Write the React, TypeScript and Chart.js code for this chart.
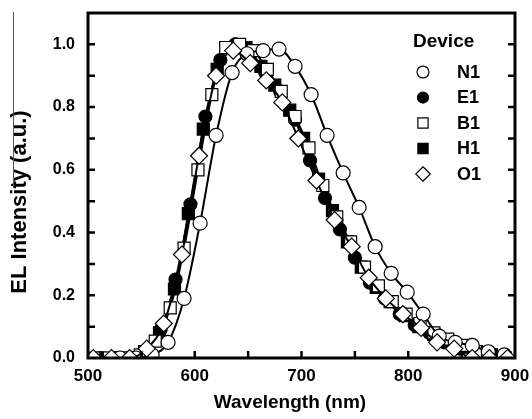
import React, { useEffect, useRef } from 'react';
import { Chart, registerables } from 'chart.js';

Chart.register(...registerables);

// ---- data ----
const n1X = [530, 545, 560, 575, 590, 605, 620, 635, 649, 664, 679, 694, 709, 724, 739, 754, 769, 784, 799, 814, 829, 844, 860, 875, 890];
const n1Y = [0, 0, 0.01, 0.05, 0.19, 0.43, 0.71, 0.91, 0.97, 0.98, 0.985, 0.93, 0.84, 0.71, 0.59, 0.48, 0.355, 0.27, 0.21, 0.14, 0.07, 0.05, 0.04, 0.02, 0.01];

const e1X = [512, 526, 540, 554, 568, 582, 596, 610, 624, 638, 652, 666, 680, 694, 708, 722, 736, 750, 764, 778, 792, 806, 820, 834, 848, 862, 876, 890];
const e1Y = [0, 0, 0, 0.02, 0.09, 0.25, 0.49, 0.77, 0.95, 1.0, 0.97, 0.91, 0.85, 0.76, 0.63, 0.51, 0.41, 0.32, 0.24, 0.19, 0.14, 0.105, 0.08, 0.05, 0.03, 0.015, 0.01, 0];

const b1X = [505, 520, 535, 549, 563, 577, 590, 603, 616, 629, 642, 655, 668, 681, 694, 707, 720, 733, 746, 759, 772, 785, 798, 811, 824, 837, 850, 863, 876, 889];
const b1Y = [0, 0, 0, 0.01, 0.054, 0.16, 0.35, 0.6, 0.84, 0.99, 1.0, 0.98, 0.92, 0.85, 0.77, 0.67, 0.55, 0.45, 0.37, 0.29, 0.23, 0.18, 0.14, 0.11, 0.08, 0.06, 0.04, 0.02, 0.01, 0];

const h1X = [512, 526, 540, 553, 567, 581, 594, 608, 621, 635, 648, 662, 675, 689, 702, 716, 729, 743, 756, 770, 783, 797, 810, 824, 837, 851, 864, 878, 891];
const h1Y = [0, 0, 0, 0.02, 0.08, 0.22, 0.46, 0.73, 0.92, 0.99, 0.99, 0.93, 0.87, 0.79, 0.7, 0.57, 0.47, 0.37, 0.29, 0.225, 0.18, 0.135, 0.1, 0.075, 0.055, 0.035, 0.02, 0.01, 0];

const o1X = [505, 522, 539, 555, 571, 588, 604, 620, 636, 652, 667, 682, 697, 714, 731, 747, 763, 779, 795, 812, 827, 843, 860, 876, 893];
const o1Y = [0, 0, 0, 0.03, 0.11, 0.33, 0.645, 0.9, 0.98, 0.94, 0.885, 0.815, 0.7, 0.566, 0.44, 0.355, 0.256, 0.19, 0.14, 0.096, 0.05, 0.03, 0, 0, 0];

const xTickValues = [500, 600, 700, 800, 900];
const xMinorTicks = [550, 600, 650, 700, 750, 800, 850];
const yTickValues = [0, 0.2, 0.4, 0.6, 0.8, 1.0];
const yMinorTicks = [0.1, 0.2, 0.3, 0.4, 0.5, 0.6, 0.7, 0.8, 0.9, 1.0];

const legendTitle = 'Device';
const seriesNames = ['N1', 'E1', 'B1', 'H1', 'O1'];
const xTitle = 'Wavelength (nm)';
const yTitle = 'EL Intensity (a.u.)';

const FONT = "'Liberation Sans', Arial, sans-serif";

const pts = (xs: number[], ys: number[]) => xs.map((x, i) => ({ x, y: ys[i] }));

type Marker = { style: string; fill: string; r: number };
const markers: Record<string, Marker> = {
  N1: { style: 'circle', fill: '#ffffff', r: 7 },
  E1: { style: 'circle', fill: '#000000', r: 6.5 },
  B1: { style: 'rect', fill: '#ffffff', r: 8.5 },
  H1: { style: 'rect', fill: '#000000', r: 8.5 },
  O1: { style: 'rectRot', fill: '#ffffff', r: 8.5 },
};

function drawMarker(ctx: CanvasRenderingContext2D, kind: string, x: number, y: number, scale: number) {
  const m = markers[kind];
  ctx.beginPath();
  if (m.style === 'circle') {
    ctx.arc(x, y, m.r * scale, 0, Math.PI * 2);
  } else if (m.style === 'rect') {
    const s = m.r * Math.SQRT1_2 * scale;
    ctx.rect(x - s, y - s, 2 * s, 2 * s);
  } else {
    const r = m.r * scale;
    ctx.moveTo(x, y - r);
    ctx.lineTo(x + r, y);
    ctx.lineTo(x, y + r);
    ctx.lineTo(x - r, y);
    ctx.closePath();
  }
  ctx.fillStyle = m.fill;
  ctx.fill();
  ctx.lineWidth = 1.2;
  ctx.strokeStyle = '#000';
  ctx.stroke();
}

const decorPlugin = {
  id: 'decor',
  afterDatasetsDraw(chart: any) {
    const { ctx, chartArea: a, scales } = chart;
    const xs = scales.x;
    const ys = scales.y;
    ctx.save();
    // frame
    ctx.strokeStyle = '#000';
    ctx.lineWidth = 3;
    ctx.strokeRect(a.left, a.top, a.right - a.left, a.bottom - a.top);
    // inward ticks
    ctx.lineWidth = 2.5;
    ctx.beginPath();
    yMinorTicks.forEach((v) => {
      const py = ys.getPixelForValue(v);
      ctx.moveTo(a.left, py);
      ctx.lineTo(a.left + 7, py);
      ctx.moveTo(a.right, py);
      ctx.lineTo(a.right - 7, py);
    });
    xMinorTicks.forEach((v) => {
      const px = xs.getPixelForValue(v);
      ctx.moveTo(px, a.bottom);
      ctx.lineTo(px, a.bottom - 7);
    });
    ctx.stroke();

    // legend
    ctx.fillStyle = '#000';
    ctx.textBaseline = 'middle';
    ctx.textAlign = 'left';
    ctx.font = `bold 19px ${FONT}`;
    ctx.fillText(legendTitle, 413, 42);
    ctx.font = `bold 18px ${FONT}`;
    seriesNames.forEach((name, i) => {
      const cy = 72 + i * 25.5;
      drawMarker(ctx, name, 423, cy, 0.85);
      ctx.fillStyle = '#000';
      ctx.fillText(name, 457, cy + 1);
    });

    // axis titles
    ctx.font = `bold 19px ${FONT}`;
    ctx.textAlign = 'center';
    ctx.fillText(xTitle, 290, 403);
    ctx.save();
    ctx.translate(20, 202);
    ctx.rotate(-Math.PI / 2);
    ctx.font = `bold 22px ${FONT}`;
    ctx.fillText(yTitle, 0, 0);
    ctx.restore();

    // stray thin line at top-left of the y title (present in reference)
    ctx.strokeStyle = '#555';
    ctx.lineWidth = 1;
    ctx.beginPath();
    ctx.moveTo(13.5, 12);
    ctx.lineTo(13.5, 188);
    ctx.stroke();
    ctx.restore();
  },
};

export default function App() {
  const ref = useRef<HTMLCanvasElement | null>(null);
  useEffect(() => {
    if (!ref.current) return;
    const mk = (name: string, xs: number[], ys: number[]) => {
      const m = markers[name];
      return {
        label: name,
        data: pts(xs, ys),
        borderColor: '#000',
        borderWidth: 2,
        pointStyle: m.style,
        pointRadius: m.r,
        pointBackgroundColor: m.fill,
        pointBorderColor: '#000',
        pointBorderWidth: 1.2,
        cubicInterpolationMode: 'monotone',
        clip: 0,
        showLine: true,
        fill: false,
      };
    };
    const chart = new Chart(ref.current, {
      type: 'line',
      data: {
        datasets: [
          mk('O1', o1X, o1Y),
          mk('N1', n1X, n1Y),
          mk('B1', b1X, b1Y),
          mk('E1', e1X, e1Y),
          mk('H1', h1X, h1Y),
        ] as any,
      },
      plugins: [decorPlugin],
      options: {
        animation: false,
        responsive: true,
        maintainAspectRatio: false,
        layout: { padding: { left: 0, top: 13, right: 17, bottom: 0 } },
        plugins: { legend: { display: false }, tooltip: { enabled: false } },
        scales: {
          x: {
            type: 'linear',
            min: 500,
            max: 900,
            afterFit: (s: any) => { s.height = 61; s.paddingLeft = 0; s.paddingRight = 0; },
            afterBuildTicks: (s: any) => { s.ticks = xTickValues.map((v) => ({ value: v })); },
            grid: { display: false, drawTicks: false },
            border: { display: false },
            ticks: {
              color: '#000',
              padding: 8,
              maxRotation: 0,
              font: { family: FONT, size: 17, weight: 'bold' },
              callback: (v: any) => String(v),
            },
          },
          y: {
            type: 'linear',
            min: 0,
            max: 1.1,
            afterFit: (s: any) => { s.width = 88; s.paddingTop = 0; s.paddingBottom = 0; },
            afterBuildTicks: (s: any) => { s.ticks = yTickValues.map((v) => ({ value: v })); },
            grid: { display: false, drawTicks: false },
            border: { display: false },
            ticks: {
              color: '#000',
              padding: 13,
              font: { family: FONT, size: 16, weight: 'bold' },
              callback: (v: any) => Number(v).toFixed(1),
            },
          },
        },
      } as any,
    });
    return () => chart.destroy();
  }, []);
  return (
    <div style={{ position: 'fixed', left: 0, top: 0, width: 532, height: 419, background: '#fff' }}>
      <canvas ref={ref} />
    </div>
  );
}
